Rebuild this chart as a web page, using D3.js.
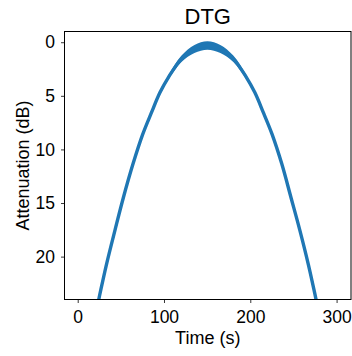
<!DOCTYPE html>
<html>
<head>
<meta charset="utf-8">
<script src="https://cdn.jsdelivr.net/npm/d3@7"></script>
<style>
  body { margin: 0; background: #fff; }
  text { font-family: "Liberation Sans", Arial, sans-serif; fill: #000; }
</style>
</head>
<body>
<div id="chart"></div>
<script>
// values
const timeSec = [0, 10.3, 24.8, 33.3, 43.3, 52.8, 64.3, 75.3, 85.3, 95.3, 105.3, 120.3, 135.3, 150.3,
                 165.3, 180.3, 195.3, 205.3, 215.3, 225.3, 236.3, 247.3, 257.3, 267.3, 275.8, 290.3, 301];
const attenDb = [33.5, 29.3, 23.84, 20.74, 17.5, 14.53, 11.3, 8.6, 6.6, 4.7, 3.25, 1.55, 0.63, 0.3,
                 0.63, 1.55, 3.25, 4.7, 6.6, 8.6, 11.3, 14.53, 17.5, 20.74, 23.84, 29.3, 33.6];
// half-width of the noisy band around the trace (dB)
const noiseDb = [0.04, 0.04, 0.04, 0.04, 0.05, 0.05, 0.06, 0.08, 0.1, 0.14, 0.2, 0.3, 0.38, 0.4,
                 0.38, 0.3, 0.2, 0.14, 0.1, 0.08, 0.06, 0.05, 0.05, 0.04, 0.04, 0.04, 0.04];
const xTicks = [0, 100, 200, 300];
const yTicks = [0, 5, 10, 15, 20];

const W = 352, H = 356;
const margin = { top: 31.5, right: 1, bottom: 56.5, left: 64.5 };
const width = W - margin.left - margin.right;
const height = H - margin.top - margin.bottom;

const svg = d3.select("#chart").append("svg")
    .attr("width", W)
    .attr("height", H);

const g = svg.append("g")
    .attr("transform", `translate(${margin.left},${margin.top})`);

const x = d3.scaleLinear().domain([-15.3, 316.7]).range([0, width]);
const y = d3.scaleLinear().domain([-1, 24]).range([0, height]);

const data = timeSec.map((t, i) => ({ t, v: attenDb[i], n: noiseDb[i] }));

g.append("clipPath").attr("id", "clip")
  .append("rect").attr("width", width).attr("height", height);

const plot = g.append("g").attr("clip-path", "url(#clip)");

// noise band
plot.append("path")
    .datum(data)
    .attr("fill", "#1f77b4")
    .attr("d", d3.area()
        .x(d => x(d.t))
        .y0(d => y(d.v - d.n))
        .y1(d => y(d.v + d.n))
        .curve(d3.curveCatmullRom));

// trace
plot.append("path")
    .datum(data)
    .attr("fill", "none")
    .attr("stroke", "#1f77b4")
    .attr("stroke-width", 3.4)
    .attr("d", d3.line()
        .x(d => x(d.t))
        .y(d => y(d.v))
        .curve(d3.curveCatmullRom));

// axes
const xAxis = g.append("g")
    .attr("transform", `translate(0,${height})`)
    .call(d3.axisBottom(x).tickValues(xTicks).tickSize(3.5).tickPadding(8));
const yAxis = g.append("g")
    .call(d3.axisLeft(y).tickValues(yTicks).tickSize(3.5).tickPadding(6));

[xAxis, yAxis].forEach(a => {
    a.select(".domain").remove();
    a.selectAll("line").attr("stroke", "#000").attr("stroke-width", 0.8);
    a.selectAll("text").style("font-size", "17.5px").attr("fill", "#000");
});

// frame
g.append("rect")
    .attr("width", width)
    .attr("height", height)
    .attr("fill", "none")
    .attr("stroke", "#000")
    .attr("stroke-width", 1);

// labels
svg.append("text")
    .attr("x", margin.left + width / 2)
    .attr("y", 24)
    .attr("text-anchor", "middle")
    .style("font-size", "22px")
    .text("DTG");

svg.append("text")
    .attr("x", margin.left + width / 2)
    .attr("y", 344)
    .attr("text-anchor", "middle")
    .style("font-size", "18px")
    .text("Time (s)");

svg.append("text")
    .attr("transform", `translate(29,${margin.top + height / 2}) rotate(-90)`)
    .attr("text-anchor", "middle")
    .style("font-size", "18px")
    .text("Attenuation (dB)");
</script>
</body>
</html>
